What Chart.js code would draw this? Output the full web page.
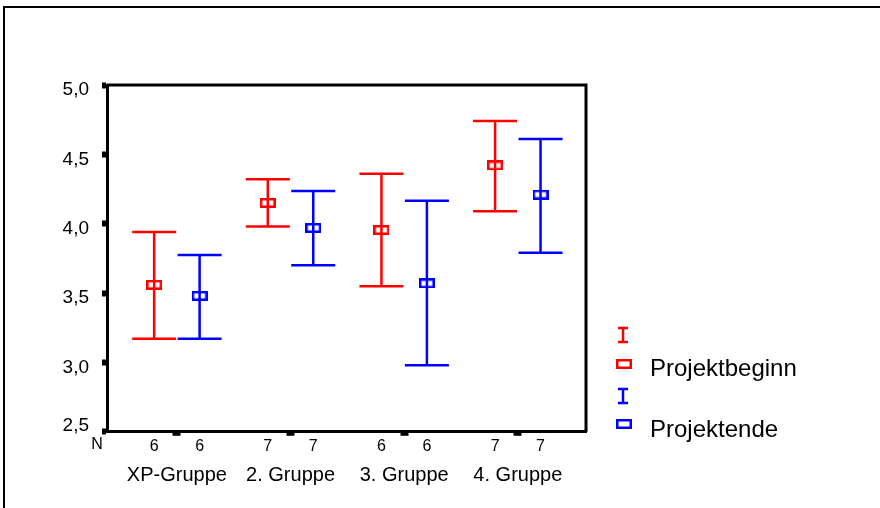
<!DOCTYPE html>
<html>
<head>
<meta charset="utf-8">
<script src="https://cdn.jsdelivr.net/npm/chart.js@4"></script>
<style>
  html, body { margin: 0; padding: 0; background: #fff; }
  #wrap { width: 880px; height: 508px; }
</style>
</head>
<body>
<div id="wrap"><canvas id="myChart" width="880" height="508"></canvas></div>
<script>
// values
const groups = ["XP-Gruppe", "2. Gruppe", "3. Gruppe", "4. Gruppe"];
const beginN = [6, 7, 6, 7];
const endN = [6, 7, 6, 7];
const beginMean = [3.56, 4.15, 3.955, 4.42];
const beginLow = [3.17, 3.98, 3.55, 4.09];
const beginHigh = [3.94, 4.32, 4.36, 4.74];
const endMean = [3.48, 3.97, 3.57, 4.21];
const endLow = [3.17, 3.70, 2.98, 3.79];
const endHigh = [3.775, 4.235, 4.165, 4.61];
const yTicks = [2.5, 3.0, 3.5, 4.0, 4.5, 5.0];
const seriesNames = ["Projektbeginn", "Projektende"];

const RED = "#ff0000";
const BLUE = "#0000ff";
const SHIFT = 0.2;
const FONT = "'Liberation Sans', Arial, sans-serif";

function marker(color) {
  const c = document.createElement("canvas");
  c.width = 16;
  c.height = 10;
  const g = c.getContext("2d");
  g.strokeStyle = color;
  g.lineWidth = 2.5;
  g.strokeRect(1.25, 1.25, 13.5, 7.5);
  return c;
}

const errorBars = {
  id: "errorBars",
  beforeDatasetsDraw(chart) {
    const ctx = chart.ctx;
    const x = chart.scales.x;
    const y = chart.scales.y;
    const a = chart.chartArea;
    ctx.save();
    // top and right frame of the plot
    ctx.strokeStyle = "#000";
    ctx.lineWidth = 3;
    ctx.beginPath();
    ctx.moveTo(a.left, a.top);
    ctx.lineTo(a.right, a.top);
    ctx.lineTo(a.right, a.bottom);
    ctx.stroke();

    chart.data.datasets.forEach(ds => {
      ctx.strokeStyle = ds.borderColor;
      ctx.lineWidth = 2.5;
      ds.data.forEach((p, i) => {
        const px = x.getPixelForValue(p.x);
        const top = y.getPixelForValue(ds.high[i]);
        const bot = y.getPixelForValue(ds.low[i]);
        ctx.beginPath();
        ctx.moveTo(px, top);
        ctx.lineTo(px, bot);
        ctx.moveTo(px - 22, top);
        ctx.lineTo(px + 22, top);
        ctx.moveTo(px - 22, bot);
        ctx.lineTo(px + 22, bot);
        ctx.stroke();
      });
    });
    ctx.restore();
  },
  afterDraw(chart) {
    const ctx = chart.ctx;
    const x = chart.scales.x;
    ctx.save();
    // outer frame
    ctx.strokeStyle = "#000";
    ctx.lineWidth = 2;
    ctx.beginPath();
    ctx.moveTo(4, 508);
    ctx.lineTo(4, 7);
    ctx.lineTo(880, 7);
    ctx.stroke();

    ctx.fillStyle = "#000";
    ctx.font = "16px " + FONT;
    ctx.textAlign = "center";
    ctx.textBaseline = "middle";
    ctx.fillText("N", x.left - 10, 445);

    // legend
    const rows = [[RED, 335, 364, 376], [BLUE, 396, 424, 437]];
    chart.data.datasets.forEach((ds, k) => {
      const r = rows[k];
      ctx.strokeStyle = ds.borderColor;
      ctx.lineWidth = 2.5;
      ctx.beginPath();
      ctx.moveTo(623, r[1] - 7);
      ctx.lineTo(623, r[1] + 7);
      ctx.moveTo(618, r[1] - 7);
      ctx.lineTo(628, r[1] - 7);
      ctx.moveTo(618, r[1] + 7);
      ctx.lineTo(628, r[1] + 7);
      ctx.stroke();
      ctx.drawImage(ds.pointStyle, 616, r[2] - 5);
      ctx.fillStyle = "#000";
      ctx.font = "24px " + FONT;
      ctx.textAlign = "left";
      ctx.textBaseline = "alphabetic";
      ctx.fillText(ds.label, 650, r[3]);
    });
    ctx.restore();
  }
};

const canvas = document.getElementById("myChart");
const myChart = new Chart(canvas.getContext("2d"), {
  type: "scatter",
  data: {
    datasets: [
      {
        label: seriesNames[0],
        data: beginMean.map((v, i) => ({ x: i + 1 - SHIFT, y: v })),
        low: beginLow,
        high: beginHigh,
        borderColor: RED,
        pointStyle: marker(RED),
        pointRadius: 8
      },
      {
        label: seriesNames[1],
        data: endMean.map((v, i) => ({ x: i + 1 + SHIFT, y: v })),
        low: endLow,
        high: endHigh,
        borderColor: BLUE,
        pointStyle: marker(BLUE),
        pointRadius: 8
      }
    ]
  },
  options: {
    responsive: false,
    animation: false,
    events: [],
    layout: { padding: { left: 57, top: 85, right: 294, bottom: 15 } },
    plugins: { legend: { display: false }, tooltip: { enabled: false } },
    scales: {
      x: {
        type: "linear",
        min: 0.385,
        max: 4.6,
        afterBuildTicks: s => {
          s.ticks = groups.flatMap((g, i) => [
            { value: i + 1 - SHIFT }, { value: i + 1 }, { value: i + 1 + SHIFT }
          ]);
        },
        grid: {
          drawOnChartArea: false,
          tickLength: 4,
          tickWidth: 8,
          tickColor: c => (c.index % 3 === 1 ? "#000" : "rgba(0,0,0,0)")
        },
        border: { color: "#000", width: 3 },
        ticks: {
          autoSkip: false,
          maxRotation: 0,
          padding: 1,
          color: "#000",
          font: { family: FONT, size: 16 },
          callback: (v, i) => {
            const g = Math.floor(i / 3);
            if (i % 3 === 0) return String(beginN[g]);
            if (i % 3 === 2) return String(endN[g]);
            return "";
          }
        }
      },
      x2: {
        type: "linear",
        position: "bottom",
        weight: 1,
        min: 0.385,
        max: 4.6,
        afterBuildTicks: s => {
          s.ticks = groups.map((g, i) => ({ value: i + 1 }));
        },
        grid: { display: false, drawTicks: false },
        border: { display: false },
        ticks: {
          autoSkip: false,
          maxRotation: 0,
          padding: 6,
          color: "#000",
          font: { family: FONT, size: 20 },
          callback: (v, i) => groups[i]
        }
      },
      y: {
        min: 2.5,
        max: 5.0,
        afterBuildTicks: s => {
          s.ticks = yTicks.map(v => ({ value: v }));
        },
        afterFit: s => {
          s.width = 50;
        },
        grid: {
          drawOnChartArea: false,
          tickLength: 5,
          tickWidth: 6,
          tickColor: "#000"
        },
        border: { color: "#000", width: 3 },
        ticks: {
          padding: 13,
          labelOffset: 5,
          color: "#000",
          font: { family: FONT, size: 19 },
          // the lowest label sits above its tick, clear of the "N"
          callback: (v, i) => {
            const t = v.toFixed(1).replace(".", ",");
            return i === 0 ? [t, ""] : t;
          }
        }
      }
    }
  },
  plugins: [errorBars]
});
</script>
</body>
</html>
